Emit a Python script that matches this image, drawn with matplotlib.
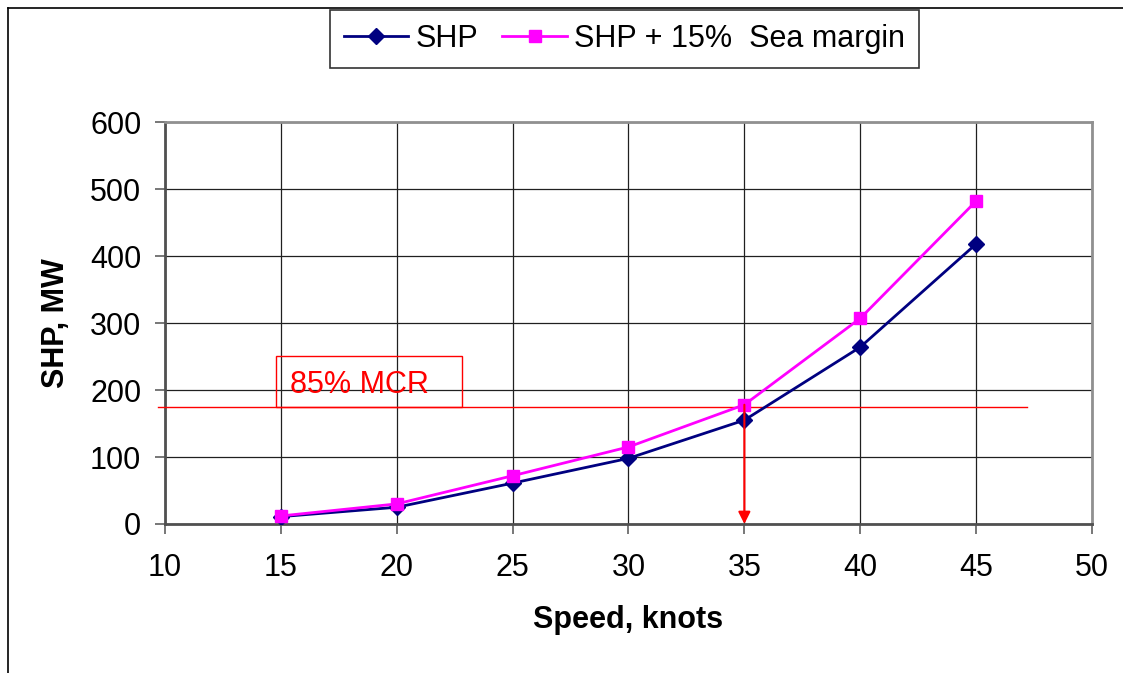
import matplotlib

matplotlib.use("Agg")
import matplotlib.pyplot as plt
from matplotlib.lines import Line2D
from matplotlib.patches import Rectangle

plt.rcParams["font.family"] = ["Liberation Sans", "DejaVu Sans"]

# data
speed = [15, 20, 25, 30, 35, 40, 45]
shp = [11, 25, 61, 98, 155, 264, 418]
shp_margin = [12, 30, 72, 115, 178, 307, 482]
mcr_level = 175
mcr_speed = 35
x_ticks = [10, 15, 20, 25, 30, 35, 40, 45, 50]
y_ticks = [0, 100, 200, 300, 400, 500, 600]

fig = plt.figure(figsize=(11.23, 6.73), dpi=100)
ax = fig.add_axes([0.1469, 0.2214, 0.8255, 0.5973])

ax.plot(speed, shp, "-D", color="#000080", lw=2, markersize=8, label="SHP", zorder=4)
ax.plot(
    speed, shp_margin, "-s", color="#FF00FF", lw=2, markersize=9,
    label="SHP + 15%  Sea margin", zorder=5,
)

# 85% MCR line, label box and arrow
ax.plot([9.7, 47.2], [mcr_level, mcr_level], color="red", lw=1, clip_on=False, zorder=3)
ax.add_patch(Rectangle((14.8, mcr_level), 8.0, 76, fill=False, edgecolor="red", lw=1, zorder=3))
ax.text(15.4, 208, "85% MCR", color="red", fontsize=22, va="center", ha="left")
ax.annotate(
    "", xy=(mcr_speed, 0), xytext=(mcr_speed, shp_margin[4]),
    arrowprops=dict(arrowstyle="-|>", color="red", lw=1.5, mutation_scale=18, shrinkA=0, shrinkB=0),
    zorder=6,
)

ax.set_xlim(10, 50)
ax.set_ylim(0, 600)
ax.set_xticks(x_ticks)
ax.set_yticks(y_ticks)
ax.grid(True, color="#202020", lw=0.9)
ax.set_axisbelow(True)
ax.tick_params(labelsize=22, direction="out", length=7, width=1.2, color="#606060")
ax.tick_params(axis="x", pad=14)
ax.tick_params(axis="y", pad=10)
for side in ["top", "right"]:
    ax.spines[side].set_color("#909090")
    ax.spines[side].set_linewidth(2)
for side in ["left", "bottom"]:
    ax.spines[side].set_color("#505050")
    ax.spines[side].set_linewidth(2)

ax.set_xlabel("Speed, knots", fontsize=22, fontweight="bold", labelpad=16)
ax.set_ylabel("SHP, MW", fontsize=22, fontweight="bold", labelpad=14)

leg = fig.legend(
    loc="upper center", bbox_to_anchor=(0.556, 0.985), ncol=2, fontsize=22,
    frameon=True, fancybox=False, edgecolor="black", handlelength=2.1,
    columnspacing=0.8, handletextpad=0.25, borderpad=0.45, borderaxespad=0,
)
leg.get_frame().set_linewidth(1.2)

# outer chart frame (left and top edges visible)
fig.add_artist(Line2D([0.0075, 0.0075], [0, 0.988], color="black", lw=1.2))
fig.add_artist(Line2D([0.0075, 1.0], [0.988, 0.988], color="black", lw=1.2))

fig.savefig("out.png", dpi=100)
